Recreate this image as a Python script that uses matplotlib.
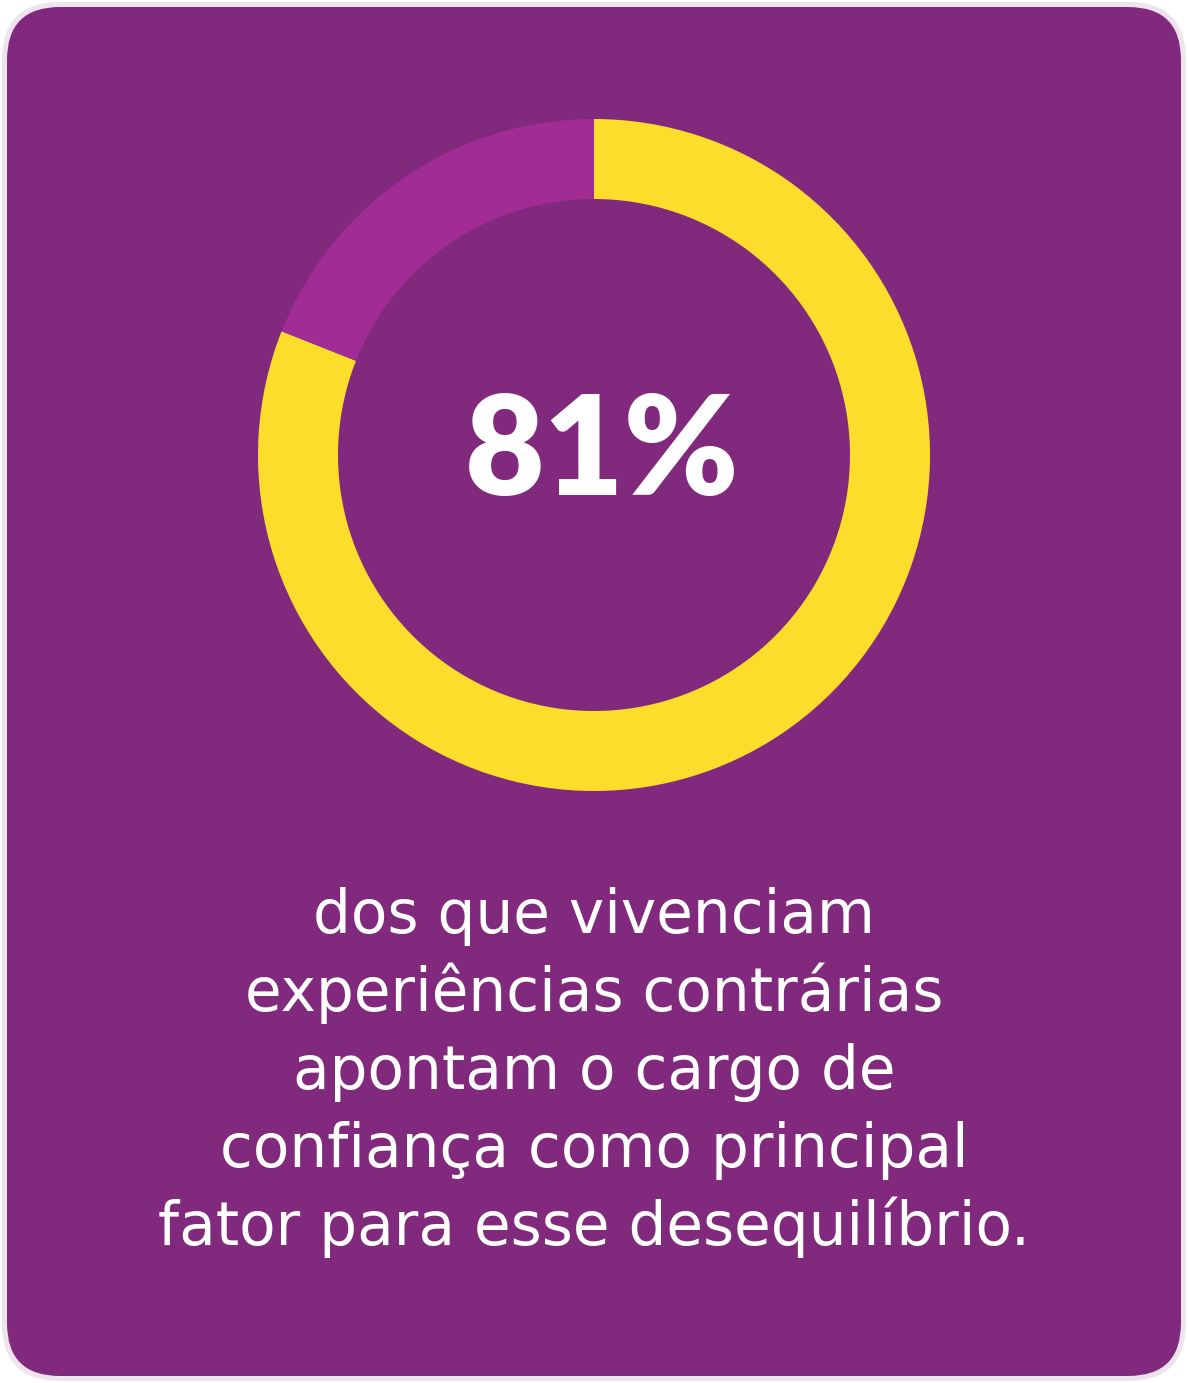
import matplotlib
matplotlib.use("Agg")
import matplotlib.pyplot as plt
from matplotlib.patches import FancyBboxPatch

# data
shares = [81, 19]
share_colors = ["#FDDD2B", "#A12C93"]
big_label = "81%"
caption_lines = [
    "dos que vivenciam",
    "experiências contrárias",
    "apontam o cargo de",
    "confiança como principal",
    "fator para esse desequilíbrio.",
]

W, H = 1188, 1383
purple = "#81297D"

fig = plt.figure(figsize=(W / 100, H / 100), dpi=100)
fig.patch.set_facecolor("white")

# background panel in pixel coordinates
bg = fig.add_axes([0, 0, 1, 1])
bg.set_xlim(0, W)
bg.set_ylim(H, 0)
bg.axis("off")

border = FancyBboxPatch((2 + 58, 2 + 58), W - 4 - 116, H - 4 - 116,
                        boxstyle="round,pad=58", facecolor="#EEE4EE",
                        edgecolor="none")
bg.add_patch(border)
panel = FancyBboxPatch((7 + 53, 7 + 53), W - 14 - 106, H - 14 - 106,
                       boxstyle="round,pad=53", facecolor=purple,
                       edgecolor="none")
bg.add_patch(panel)

# donut
cx, cy, r = 594, 455, 336
ring = 80
pie_ax = fig.add_axes([(cx - r) / W, 1 - (cy + r) / H, 2 * r / W, 2 * r / H])
pie_ax.pie(shares, colors=share_colors, startangle=90, counterclock=False,
           radius=1, wedgeprops=dict(width=ring / r, linewidth=0))
pie_ax.set_xlim(-1, 1)
pie_ax.set_ylim(-1, 1)
pie_ax.set_aspect("equal")
pie_ax.axis("off")

bg.text(cx + 8, 495, big_label, ha="center", va="baseline", color="white",
        fontsize=99, fontweight="heavy", family="Lato")

# caption
y0, step = 933, 78
for i, line in enumerate(caption_lines):
    bg.text(594, y0 + i * step, line, ha="center", va="baseline", color="white",
            fontsize=43, family="DejaVu Sans")

fig.savefig("out.png", dpi=100, facecolor="white")
